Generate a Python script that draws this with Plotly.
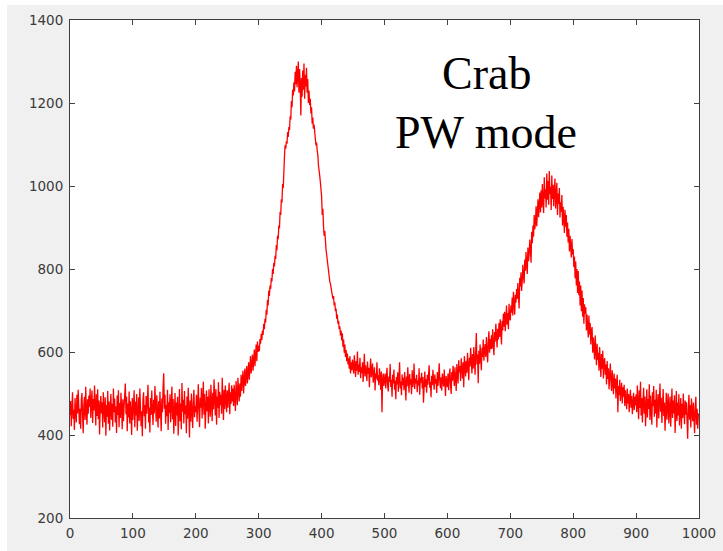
import numpy as np
import plotly.graph_objects as go

# Pulse profile counts per phase bin (bins 0..999)
counts_000_099 = [448, 482, 421, 467, 503, 439, 461, 412, 489, 455, 430, 497, 452, 509, 470, 426, 463, 415, 484, 501,
                  447, 404, 473, 492, 436, 516, 458, 425, 486, 451, 495, 468, 512, 441, 480, 507, 429, 487, 459, 519,
                  474, 423, 498, 446, 510, 438, 483, 401, 465, 494, 452, 479, 418, 503, 460, 431, 491, 398, 472, 444,
                  506, 427, 481, 411, 466, 499, 437, 475, 420, 512, 455, 488, 430, 469, 405, 495, 448, 508, 419, 477,
                  441, 502, 463, 414, 486, 433, 470, 511, 524, 450, 493, 409, 476, 442, 505, 428, 481, 457, 400, 489]
counts_100_199 = [436, 471, 508, 419, 480, 447, 499, 410, 462, 491, 434, 512, 468, 421, 457, 397, 484, 503, 445, 472,
                  415, 494, 451, 478, 521, 430, 466, 406, 489, 448, 507, 461, 424, 485, 452, 518, 470, 432, 496, 459,
                  418, 481, 440, 504, 467, 409, 488, 455, 515, 549, 463, 497, 427, 472, 445, 509, 412, 479, 453, 498,
                  431, 466, 517, 438, 487, 403, 459, 501, 422, 478, 447, 492, 399, 465, 511, 433, 476, 414, 525, 456,
                  485, 428, 506, 450, 471, 404, 493, 439, 514, 462, 394, 483, 432, 500, 455, 417, 477, 509, 443, 470]
counts_200_299 = [455, 497, 432, 481, 522, 458, 419, 490, 466, 513, 440, 486, 528, 449, 499, 415, 478, 507, 457, 492,
                  428, 510, 468, 444, 521, 481, 433, 502, 462, 534, 488, 447, 511, 425, 493, 466, 527, 441, 504, 472,
                  497, 451, 538, 476, 436, 509, 463, 519, 484, 455, 508, 466, 497, 526, 450, 503, 475, 520, 481, 512,
                  470, 521, 489, 458, 530, 495, 472, 538, 503, 481, 524, 492, 545, 506, 531, 555, 500, 538, 560, 518,
                  545, 566, 524, 556, 575, 533, 565, 590, 548, 575, 594, 555, 583, 606, 566, 597, 618, 578, 625, 600]
counts_300_399 = [615, 602, 631, 620, 644, 629, 652, 641, 668, 655, 680, 671, 702, 690, 725, 712, 748, 735, 760, 752,
                  778, 770, 800, 788, 815, 806, 832, 824, 858, 845, 880, 872, 905, 898, 938, 930, 968, 960, 1005, 995,
                  1055, 1072, 1098, 1090, 1108, 1102, 1130, 1118, 1142, 1135, 1168, 1160, 1205, 1190, 1232, 1218, 1250, 1228, 1275, 1245,
                  1290, 1238, 1268, 1300, 1225, 1282, 1245, 1170, 1260, 1215, 1278, 1232, 1295, 1210, 1268, 1240, 1285, 1225, 1258, 1200,
                  1230, 1195, 1210, 1175, 1190, 1150, 1165, 1138, 1148, 1120, 1115, 1098, 1105, 1085, 1075, 1050, 1042, 1025, 1010, 990]
counts_400_499 = [975, 930, 945, 905, 880, 892, 860, 848, 835, 818, 805, 792, 780, 770, 765, 752, 748, 740, 728, 735,
                  712, 720, 698, 705, 680, 690, 668, 675, 655, 662, 640, 652, 628, 645, 612, 630, 598, 618, 588, 605,
                  578, 596, 570, 585, 560, 590, 548, 575, 556, 582, 560, 548, 592, 565, 540, 578, 555, 601, 545, 570,
                  552, 586, 537, 563, 549, 575, 528, 560, 596, 541, 568, 553, 530, 577, 548, 562, 515, 558, 584, 539,
                  550, 572, 526, 545, 563, 507, 549, 536, 575, 531, 544, 520, 561, 538, 509, 553, 455, 532, 548, 518]
counts_500_599 = [530, 548, 512, 537, 562, 520, 505, 541, 528, 571, 516, 533, 492, 545, 524, 558, 509, 531, 486, 540,
                  522, 551, 504, 537, 575, 513, 529, 496, 546, 520, 538, 508, 552, 525, 483, 541, 517, 563, 530, 502,
                  547, 521, 534, 498, 556, 515, 530, 572, 511, 536, 524, 545, 503, 532, 519, 561, 497, 538, 526, 550,
                  512, 540, 478, 529, 553, 516, 534, 502, 545, 521, 537, 568, 514, 528, 491, 543, 520, 557, 531, 509,
                  546, 524, 535, 501, 552, 518, 540, 573, 526, 513, 539, 507, 548, 530, 517, 558, 525, 494, 542, 531]
counts_600_699 = [515, 548, 508, 541, 560, 522, 499, 552, 530, 567, 532, 518, 563, 545, 506, 571, 540, 524, 580, 551,
                  566, 530, 585, 548, 536, 575, 515, 590, 556, 541, 579, 550, 598, 560, 532, 586, 565, 610, 569, 548,
                  595, 560, 612, 578, 545, 602, 646, 570, 594, 525, 603, 572, 618, 584, 556, 610, 588, 630, 579, 604,
                  619, 588, 636, 602, 575, 626, 650, 598, 631, 607, 640, 608, 655, 619, 592, 648, 625, 668, 628, 611,
                  656, 630, 670, 636, 679, 648, 618, 675, 652, 693, 661, 697, 650, 680, 712, 666, 694, 655, 716, 682]
counts_700_799 = [676, 712, 695, 731, 688, 745, 706, 690, 738, 719, 752, 728, 766, 741, 705, 779, 758, 792, 747, 771,
                  810, 782, 765, 823, 796, 841, 807, 788, 852, 819, 836, 871, 845, 815, 890, 862, 905, 878, 930, 896,
                  912, 951, 903, 937, 968, 925, 958, 984, 936, 990, 948, 1005, 962, 935, 1021, 970, 992, 948, 1030, 967,
                  1012, 955, 1036, 980, 998, 942, 1025, 969, 1003, 951, 990, 1018, 946, 975, 1008, 930, 982, 957, 995, 924,
                  961, 938, 978, 905, 950, 921, 887, 943, 902, 930, 878, 912, 864, 897, 842, 880, 851, 828, 872, 835]
counts_800_899 = [848, 805, 830, 778, 818, 760, 800, 742, 795, 737, 770, 712, 760, 698, 748, 685, 730, 668, 715, 692,
                  708, 652, 690, 666, 635, 688, 642, 670, 618, 652, 660, 598, 635, 610, 582, 640, 593, 568, 620, 581,
                  598, 555, 612, 568, 540, 595, 560, 603, 536, 579, 585, 545, 570, 522, 578, 535, 561, 510, 550, 572,
                  530, 506, 556, 520, 498, 548, 512, 536, 488, 527, 545, 455, 518, 496, 533, 482, 512, 526, 476, 515,
                  492, 521, 470, 508, 485, 462, 512, 476, 499, 455, 488, 509, 466, 494, 450, 485, 502, 460, 492, 471]
counts_900_999 = [498, 455, 519, 476, 438, 507, 465, 528, 447, 489, 430, 481, 514, 451, 493, 421, 474, 510, 442, 487,
                  463, 522, 436, 495, 458, 425, 503, 470, 518, 444, 485, 452, 509, 418, 472, 499, 440, 481, 524, 456,
                  490, 429, 475, 511, 446, 478, 410, 467, 502, 437, 471, 500, 428, 464, 493, 420, 470, 512, 441, 483,
                  452, 496, 405, 466, 506, 434, 478, 447, 498, 423, 468, 489, 415, 475, 441, 500, 458, 426, 483, 449,
                  479, 420, 391, 465, 497, 437, 472, 418, 488, 455, 433, 478, 449, 404, 470, 492, 425, 463, 415, 452]

counts = (counts_000_099 + counts_100_199 + counts_200_299 + counts_300_399 + counts_400_499 +
          counts_500_599 + counts_600_699 + counts_700_799 + counts_800_899 + counts_900_999)
phase_bins = np.arange(len(counts))

x_ticks = [0, 100, 200, 300, 400, 500, 600, 700, 800, 900, 1000]
y_ticks = [200, 400, 600, 800, 1000, 1200, 1400]
label_lines = ["Crab", "PW mode"]

fig = go.Figure()
fig.add_trace(go.Scatter(x=phase_bins, y=counts, mode="lines",
                         line=dict(color="#ff0000", width=1.3), showlegend=False))

axis_common = dict(showline=True, linecolor="#404040", linewidth=1, mirror="ticks",
                   ticks="inside", ticklen=5, tickwidth=1, tickcolor="#404040",
                   showgrid=False, zeroline=False, ticklabelstandoff=3, automargin=False,
                   tickfont=dict(family="DejaVu Sans", size=13.5, color="#3a3a3a"))
fig.update_xaxes(range=[0, 1000], tickvals=x_ticks, **axis_common)
fig.update_yaxes(range=[200, 1400], tickvals=y_ticks, **axis_common)

fig.add_annotation(x=662, y=1272, text=label_lines[0], showarrow=False,
                   font=dict(family="Liberation Serif", size=46, color="black"),
                   xanchor="center", yanchor="middle")
fig.add_annotation(x=662, y=1130, text=label_lines[1], showarrow=False,
                   font=dict(family="Liberation Serif", size=46, color="black"),
                   xanchor="center", yanchor="middle")

# white strips at top / left edge of the figure
fig.add_shape(type="rect", xref="paper", yref="paper", x0=-0.2, x1=1.2, y0=1.0301, y1=1.2,
              fillcolor="white", line_width=0, layer="above")
fig.add_shape(type="rect", xref="paper", yref="paper", x0=-0.2, x1=-0.1002, y0=-0.2, y1=1.2,
              fillcolor="white", line_width=0, layer="above")

fig.update_layout(width=723, height=551, margin=dict(l=70, r=24, t=20, b=33),
                  paper_bgcolor="#f0f0f0", plot_bgcolor="white")

fig.write_html("out.html")
